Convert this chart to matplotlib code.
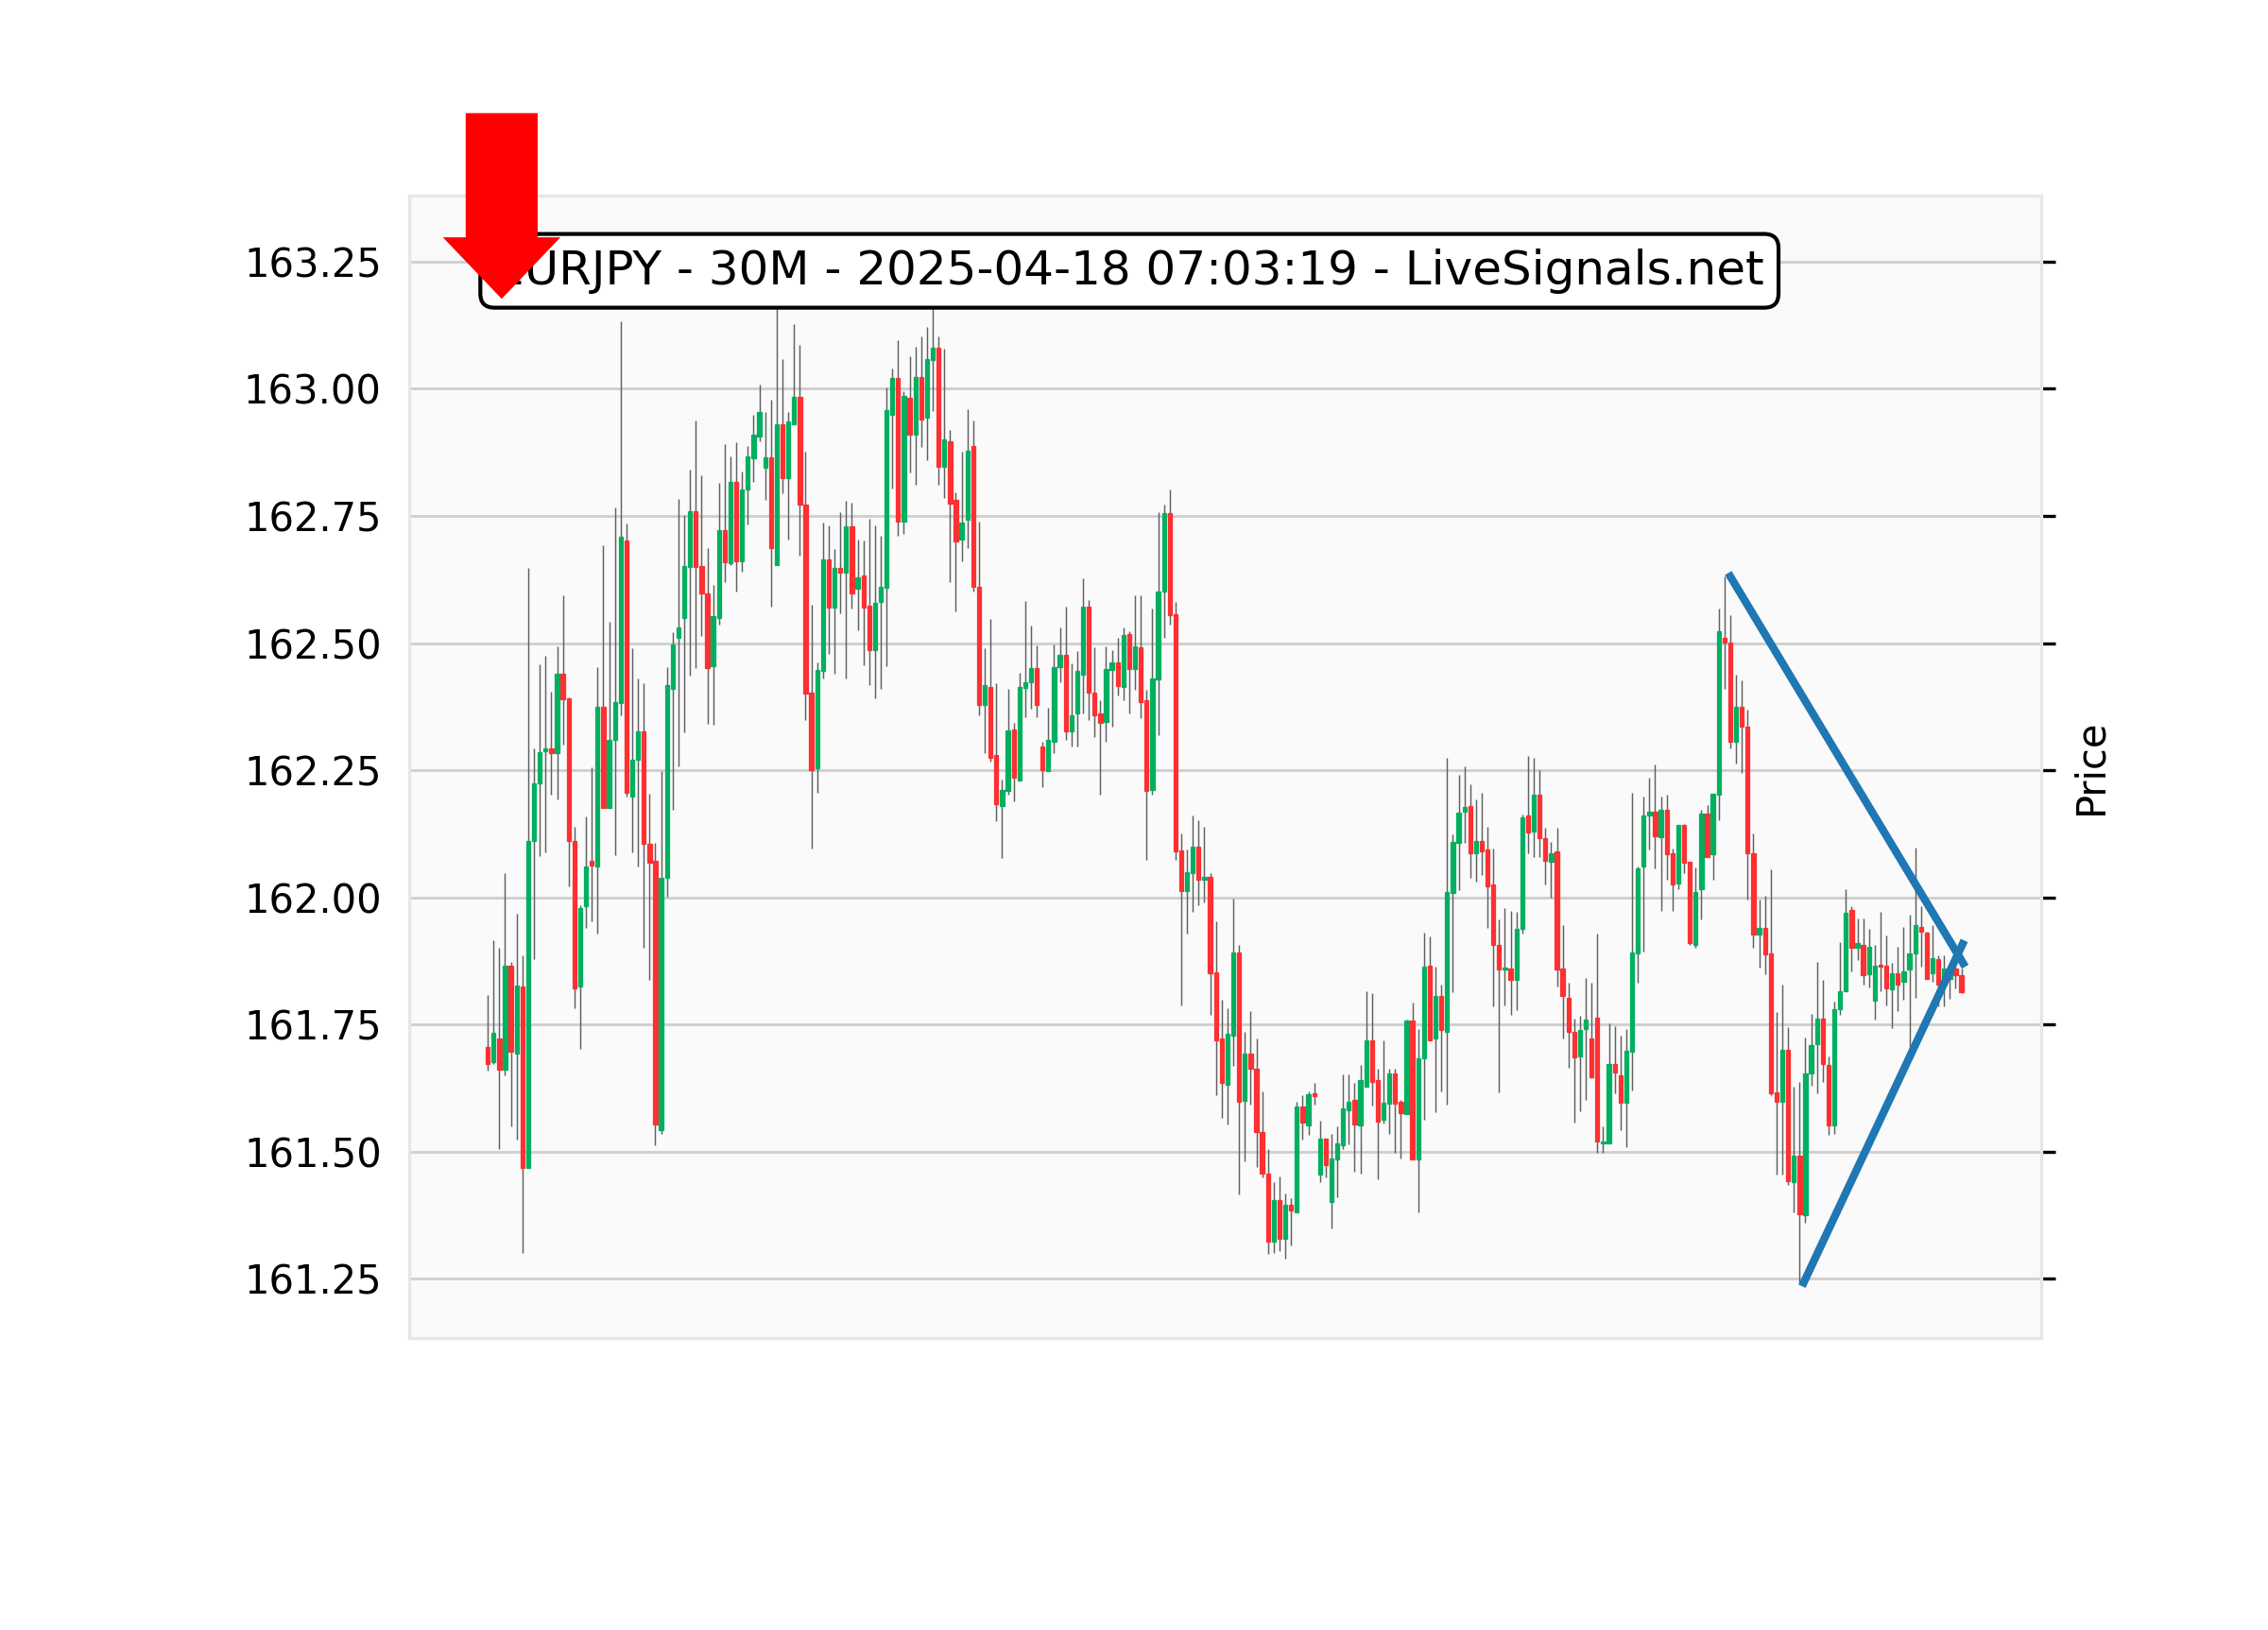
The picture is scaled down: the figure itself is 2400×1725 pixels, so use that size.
import matplotlib
matplotlib.use("Agg")
import matplotlib.pyplot as plt
from matplotlib.patches import FancyArrow
import numpy as np

# --- data (EURJPY 30M candles) ---
title_text = "EURJPY - 30M - 2025-04-18 07:03:19 - LiveSignals.net"

opens = [
    161.705, 161.675, 161.722, 161.661, 161.866, 161.692, 161.824, 161.467,
    162.111, 162.224, 162.287, 162.292, 162.283, 162.440, 162.391, 162.110,
    161.824, 161.983, 162.071, 162.061, 162.374, 162.176, 162.309, 162.382,
    162.701, 162.198, 162.270, 162.326, 162.105, 162.071, 161.542, 162.038,
    162.409, 162.511, 162.550, 162.650, 162.759, 162.652, 162.598, 162.455,
    162.550, 162.723, 162.657, 162.817, 162.661, 162.802, 162.863, 162.906,
    162.845, 162.866, 162.654, 162.931, 162.824, 162.931, 162.984, 162.772,
    162.403, 162.253, 162.446, 162.664, 162.570, 162.648, 162.639, 162.730,
    162.606, 162.632, 162.574, 162.487, 162.580, 162.609, 162.948, 163.021,
    162.739, 162.983, 162.909, 163.024, 162.943, 163.057, 163.080, 162.847,
    162.897, 162.781, 162.704, 162.742, 162.888, 162.611, 162.378, 162.414,
    162.279, 162.180, 162.209, 162.330, 162.229, 162.411, 162.422, 162.450,
    162.296, 162.248, 162.306, 162.453, 162.477, 162.327, 162.362, 162.438,
    162.572, 162.403, 162.361, 162.344, 162.447, 162.461, 162.414, 162.518,
    162.448, 162.491, 162.387, 162.211, 162.429, 162.601, 162.755, 162.557,
    162.092, 162.013, 162.048, 162.099, 162.034, 162.040, 161.852, 161.722,
    161.631, 161.728, 161.892, 161.599, 161.693, 161.662, 161.539, 161.457,
    161.322, 161.405, 161.329, 161.396, 161.380, 161.588, 161.551, 161.614,
    161.455, 161.526, 161.401, 161.485, 161.513, 161.581, 161.601, 161.551,
    161.628, 161.719, 161.640, 161.562, 161.594, 161.653, 161.597, 161.573,
    161.757, 161.485, 161.683, 161.866, 161.722, 161.805, 161.736, 162.009,
    162.107, 162.169, 162.180, 162.086, 162.111, 162.094, 162.025, 161.907,
    161.858, 161.860, 161.837, 161.937, 162.160, 162.130, 162.201, 162.116,
    162.070, 162.090, 161.860, 161.803, 161.735, 161.687, 161.740, 161.722,
    161.764, 161.516, 161.516, 161.672, 161.650, 161.595, 161.696, 161.889,
    162.061, 162.161, 162.168, 162.118, 162.172, 162.087, 162.027, 162.142,
    162.069, 161.907, 162.015, 162.164, 162.085, 162.201, 162.511, 162.501,
    162.305, 162.374, 162.335, 162.087, 161.927, 161.940, 161.889, 161.616,
    161.597, 161.700, 161.439, 161.491, 161.374, 161.653, 161.712, 161.761,
    161.670, 161.552, 161.779, 161.816, 161.975, 161.901, 161.907, 161.849,
    161.796, 161.868, 161.866, 161.818, 161.850, 161.833, 161.858, 161.889,
    161.941, 161.931, 161.850, 161.878, 161.829, 161.839, 161.859, 161.846,
]

highs = [
    161.807, 161.915, 161.900, 162.047, 161.872, 161.968, 161.885, 162.648,
    162.293, 162.459, 162.475, 162.404, 162.493, 162.593, 162.394, 162.138,
    161.985, 162.159, 162.256, 162.453, 162.692, 162.541, 162.766, 163.133,
    162.736, 162.489, 162.430, 162.421, 162.203, 162.107, 162.248, 162.453,
    162.522, 162.783, 162.752, 162.841, 162.938, 162.829, 162.686, 162.614,
    162.815, 162.891, 162.867, 162.895, 162.838, 162.887, 162.948, 163.008,
    162.954, 162.978, 163.161, 163.059, 162.954, 163.127, 163.087, 162.876,
    162.576, 162.461, 162.737, 162.731, 162.684, 162.757, 162.780, 162.776,
    162.703, 162.701, 162.744, 162.731, 162.711, 163.003, 163.039, 163.095,
    162.995, 163.064, 163.082, 163.103, 163.121, 163.161, 163.103, 163.078,
    162.919, 162.797, 162.876, 162.960, 162.938, 162.738, 162.489, 162.547,
    162.421, 162.232, 162.409, 162.343, 162.441, 162.583, 162.535, 162.495,
    162.306, 162.373, 162.497, 162.531, 162.571, 162.460, 162.484, 162.627,
    162.584, 162.491, 162.387, 162.494, 162.487, 162.511, 162.531, 162.524,
    162.593, 162.593, 162.408, 162.567, 162.757, 162.773, 162.802, 162.580,
    162.125, 162.094, 162.160, 162.151, 162.139, 162.048, 161.952, 161.798,
    161.781, 161.998, 161.907, 161.736, 161.777, 161.722, 161.618, 161.504,
    161.440, 161.451, 161.418, 161.409, 161.597, 161.610, 161.618, 161.635,
    161.561, 161.526, 161.534, 161.549, 161.652, 161.652, 161.635, 161.670,
    161.816, 161.812, 161.662, 161.718, 161.663, 161.663, 161.601, 161.760,
    161.792, 161.741, 161.931, 161.923, 161.864, 161.828, 162.274, 162.124,
    162.240, 162.257, 162.222, 162.193, 162.205, 162.139, 162.095, 161.957,
    161.978, 161.974, 161.972, 162.163, 162.277, 162.274, 162.250, 162.137,
    162.109, 162.137, 161.945, 161.832, 161.761, 161.766, 161.841, 161.832,
    161.929, 161.549, 161.752, 161.747, 161.728, 161.740, 162.205, 162.061,
    162.198, 162.235, 162.261, 162.198, 162.201, 162.095, 162.142, 162.145,
    162.069, 162.058, 162.172, 162.182, 162.203, 162.567, 162.631, 162.554,
    162.437, 162.426, 162.369, 162.126, 161.995, 162.002, 162.054, 161.774,
    161.828, 161.745, 161.627, 161.636, 161.725, 161.770, 161.872, 161.837,
    161.687, 161.794, 161.912, 162.015, 161.982, 161.958, 161.958, 161.937,
    161.907, 161.971, 161.924, 161.871, 161.902, 161.941, 161.966, 162.097,
    161.983, 161.933, 161.946, 161.885, 161.885, 161.859, 161.866, 161.859,
]

lows = [
    161.659, 161.672, 161.505, 161.650, 161.549, 161.524, 161.300, 161.467,
    161.878, 162.081, 162.089, 162.201, 162.192, 162.300, 162.021, 161.782,
    161.702, 161.940, 161.953, 161.929, 162.175, 162.176, 162.083, 162.357,
    162.198, 162.088, 162.060, 161.900, 161.837, 161.513, 161.535, 162.001,
    162.172, 162.257, 162.324, 162.436, 162.451, 162.514, 162.341, 162.340,
    162.537, 162.619, 162.654, 162.602, 162.641, 162.733, 162.817, 162.896,
    162.781, 162.572, 162.654, 162.794, 162.704, 162.931, 162.671, 162.348,
    162.096, 162.206, 162.430, 162.478, 162.440, 162.558, 162.431, 162.567,
    162.525, 162.456, 162.418, 162.392, 162.409, 162.455, 162.804, 162.711,
    162.714, 162.836, 162.812, 162.885, 162.859, 162.957, 162.811, 162.785,
    162.619, 162.562, 162.660, 162.686, 162.602, 162.358, 162.284, 162.266,
    162.150, 162.078, 162.201, 162.188, 162.229, 162.354, 162.370, 162.354,
    162.217, 162.248, 162.284, 162.422, 162.309, 162.297, 162.297, 162.362,
    162.348, 162.315, 162.201, 162.306, 162.335, 162.396, 162.387, 162.361,
    162.408, 162.353, 162.074, 162.201, 162.319, 162.511, 162.537, 162.073,
    161.787, 161.929, 161.972, 161.984, 161.989, 161.768, 161.610, 161.567,
    161.554, 161.668, 161.415, 161.481, 161.592, 161.469, 161.449, 161.298,
    161.301, 161.305, 161.290, 161.315, 161.380, 161.524, 161.532, 161.592,
    161.439, 161.449, 161.349, 161.410, 161.505, 161.515, 161.461, 161.457,
    161.628, 161.590, 161.446, 161.555, 161.534, 161.498, 161.487, 161.573,
    161.484, 161.380, 161.563, 161.718, 161.578, 161.619, 161.592, 161.813,
    162.014, 162.107, 162.038, 162.031, 162.043, 161.940, 161.786, 161.616,
    161.788, 161.768, 161.778, 161.929, 162.087, 162.079, 162.079, 162.026,
    162.000, 161.825, 161.722, 161.665, 161.556, 161.580, 161.601, 161.644,
    161.498, 161.498, 161.516, 161.615, 161.542, 161.509, 161.620, 161.832,
    161.894, 162.094, 162.057, 161.974, 162.035, 161.974, 162.015, 162.048,
    161.907, 161.901, 161.957, 162.079, 162.035, 162.152, 162.409, 162.292,
    162.263, 162.244, 161.995, 161.900, 161.862, 161.849, 161.610, 161.455,
    161.455, 161.435, 161.381, 161.242, 161.359, 161.629, 161.615, 161.637,
    161.533, 161.535, 161.768, 161.816, 161.855, 161.876, 161.829, 161.822,
    161.760, 161.816, 161.788, 161.743, 161.777, 161.798, 161.698, 161.803,
    161.864, 161.839, 161.833, 161.785, 161.785, 161.800, 161.820, 161.811,
]

closes = [
    161.672, 161.734, 161.661, 161.866, 161.696, 161.827, 161.467, 162.111,
    162.224, 162.286, 162.292, 162.283, 162.440, 162.390, 162.110, 161.820,
    161.978, 162.061, 162.063, 162.374, 162.175, 162.309, 162.384, 162.709,
    162.205, 162.270, 162.326, 162.105, 162.068, 161.553, 162.038, 162.417,
    162.498, 162.531, 162.652, 162.759, 162.650, 162.598, 162.451, 162.553,
    162.723, 162.658, 162.817, 162.661, 162.802, 162.867, 162.910, 162.954,
    162.866, 162.687, 162.931, 162.824, 162.935, 162.984, 162.772, 162.400,
    162.250, 162.447, 162.664, 162.570, 162.648, 162.639, 162.730, 162.598,
    162.630, 162.570, 162.487, 162.579, 162.610, 162.958, 163.021, 162.739,
    162.986, 162.909, 163.024, 162.940, 163.059, 163.080, 162.847, 162.901,
    162.774, 162.699, 162.737, 162.879, 162.611, 162.378, 162.418, 162.275,
    162.184, 162.211, 162.329, 162.236, 162.413, 162.422, 162.450, 162.379,
    162.250, 162.309, 162.453, 162.477, 162.327, 162.357, 162.446, 162.572,
    162.403, 162.358, 162.343, 162.448, 162.461, 162.416, 162.515, 162.448,
    162.493, 162.384, 162.210, 162.431, 162.602, 162.755, 162.554, 162.091,
    162.013, 162.049, 162.099, 162.035, 162.040, 161.851, 161.718, 161.635,
    161.731, 161.892, 161.597, 161.693, 161.662, 161.538, 161.457, 161.322,
    161.405, 161.329, 161.396, 161.384, 161.589, 161.556, 161.612, 161.609,
    161.526, 161.473, 161.487, 161.516, 161.584, 161.597, 161.554, 161.640,
    161.719, 161.637, 161.559, 161.595, 161.653, 161.594, 161.575, 161.757,
    161.485, 161.683, 161.863, 161.718, 161.805, 161.739, 162.011, 162.109,
    162.167, 162.177, 162.087, 162.111, 162.091, 162.021, 161.906, 161.858,
    161.862, 161.838, 161.938, 162.158, 162.128, 162.201, 162.116, 162.072,
    162.087, 161.858, 161.805, 161.735, 161.685, 161.739, 161.759, 161.646,
    161.519, 161.519, 161.672, 161.656, 161.595, 161.698, 161.892, 162.057,
    162.160, 162.168, 162.120, 162.172, 162.085, 162.025, 162.142, 162.068,
    161.910, 162.010, 162.164, 162.079, 162.203, 162.524, 162.501, 162.306,
    162.374, 162.335, 162.087, 161.927, 161.940, 161.888, 161.615, 161.597,
    161.700, 161.442, 161.491, 161.376, 161.653, 161.709, 161.761, 161.672,
    161.552, 161.779, 161.816, 161.970, 161.901, 161.910, 161.846, 161.903,
    161.866, 161.864, 161.820, 161.850, 161.828, 161.854, 161.889, 161.945,
    161.933, 161.839, 161.880, 161.829, 161.859, 161.852, 161.846, 161.813,
]

# triangle trend lines: (bar index, price)
upper_line_x = [215.0, 255.3]
upper_line_y = [162.631, 161.870]
lower_line_x = [227.7, 255.2]
lower_line_y = [161.242, 161.908]

price_ticks = [161.25, 161.50, 161.75, 162.00, 162.25, 162.50, 162.75, 163.00, 163.25]

# yahoo-like colours
UP = '#00b060'
DOWN = '#fe3032'
WICK = '#606060'

fig = plt.figure(figsize=(8, 5.75), dpi=300)
ax = fig.add_axes([0.1804, 0.1791, 0.7196, 0.7009])
ax.set_facecolor('#fafafa')

o = np.array(opens)
h = np.array(highs)
l = np.array(lows)
c = np.array(closes)
x = np.arange(len(o))
colors = np.where(c >= o, UP, DOWN)

# wicks then bodies
ax.vlines(x, l, h, color=WICK, linewidth=0.35, zorder=2)
body_bottom = np.minimum(o, c)
body_height = np.maximum(np.abs(c - o), 0.002)
ax.bar(x, body_height, bottom=body_bottom, width=0.7, color=colors,
       edgecolor=colors, linewidth=0.3, zorder=3)

# trend lines
ax.plot(upper_line_x, upper_line_y, color='#1f77b4', linewidth=2.0, zorder=4)
ax.plot(lower_line_x, lower_line_y, color='#1f77b4', linewidth=2.0, zorder=4)

ax.set_xlim(-13.6, 268.8)
ax.set_ylim(161.133, 163.380)
ax.set_yticks(price_ticks)
ax.set_yticklabels([f'{t:.2f}' for t in price_ticks])
ax.set_xticks([])
ax.grid(axis='y', color='#d0d0d0', linewidth=0.7)
ax.set_axisbelow(True)
ax.tick_params(axis='y', left=False, right=True, labelleft=True,
               labelright=False, labelsize=10)
ax.yaxis.set_label_position('right')
ax.set_ylabel('Price', fontsize=10)
for s in ax.spines.values():
    s.set_color('#e6e6e6')
    s.set_linewidth(0.8)

ax.text(0.0523, 0.954, title_text, transform=ax.transAxes, ha='left', va='top',
        fontsize=12, zorder=6,
        bbox=dict(boxstyle='round', facecolor='white', edgecolor='black', linewidth=1.0))

# sell signal arrow, in figure fractions
arrow = FancyArrow(0.2212, 0.9294, 0, -0.1110, width=0.0300, head_width=0.0478,
                   head_length=0.0348, length_includes_head=True,
                   transform=fig.transFigure, color='#ff0000', zorder=10)
fig.add_artist(arrow)

fig.savefig('out.png', dpi=300)
